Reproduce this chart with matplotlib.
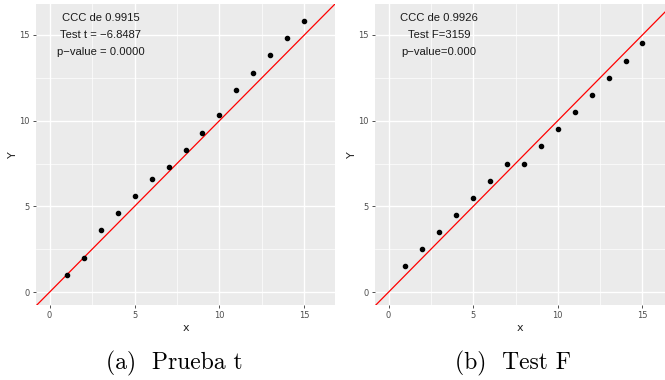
import matplotlib.pyplot as plt
import numpy as np

# datos
x_vals = np.arange(1, 16)
y_prueba_t = [1.0, 2.0, 3.6, 4.6, 5.6, 6.6, 7.3, 8.3, 9.3, 10.3, 11.8, 12.8, 13.8, 14.8, 15.8]
y_test_f = [1.5, 2.5, 3.5, 4.5, 5.5, 6.5, 7.5, 7.5, 8.5, 9.5, 10.5, 11.5, 12.5, 13.5, 14.5]

textos_t = ["CCC de 0.9915", "Test t = \u22126.8487", "p\u2212value = 0.0000"]
textos_f = ["CCC de 0.9926", "Test F=3159", "p\u2212value=0.000"]
captions = ["(a)  Prueba t", "(b)  Test F"]

ticks = [0, 5, 10, 15]
minor = [2.5, 7.5, 12.5]

fig = plt.figure(figsize=(6.65, 3.8), dpi=100)
ax1 = fig.add_axes([36 / 665, 75 / 380, 299 / 665, 301 / 380])
ax2 = fig.add_axes([375 / 665, 75 / 380, 290 / 665, 301 / 380])


def estilo_ggplot(ax, xmax):
    ax.set_facecolor("#EBEBEB")
    for s in ax.spines.values():
        s.set_visible(False)
    ax.set_xlim(-0.8, xmax)
    ax.set_ylim(-0.75, 16.8)
    ax.set_xticks(ticks)
    ax.set_yticks(ticks)
    ax.set_xticks(minor, minor=True)
    ax.set_yticks(minor, minor=True)
    ax.grid(which="major", color="white", linewidth=1.0)
    ax.grid(which="minor", color="white", linewidth=0.5)
    ax.set_axisbelow(True)
    ax.tick_params(which="major", length=2.5, width=0.6, color="#333333",
                   labelsize=6, labelcolor="#4D4D4D", pad=2)
    ax.tick_params(which="minor", length=0)
    ax.set_xlabel("x", fontsize=8, color="#222222", labelpad=2)
    ax.set_ylabel("Y", fontsize=8, color="#222222", labelpad=1)


for ax, yv, textos, xmax in [(ax1, y_prueba_t, textos_t, 16.8),
                             (ax2, y_test_f, textos_f, 16.33)]:
    estilo_ggplot(ax, xmax)
    lim = np.array([-2, 20])
    ax.plot(lim, lim, color="#FF0000", linewidth=0.9, zorder=2)
    ax.scatter(x_vals, yv, s=9, color="black", zorder=3)
    for i, t in enumerate(textos):
        ax.text(3, 16 - i, t, ha="center", va="center", fontsize=8.1,
                family="Liberation Sans", color="#1A1A1A")

fig.text(174 / 665, 1 - 369 / 380, captions[0], ha="center", va="baseline",
         fontsize=17, family="cmr10")
fig.text(513 / 665, 1 - 369 / 380, captions[1], ha="center", va="baseline",
         fontsize=17, family="cmr10")

fig.savefig("out.png", dpi=100)
